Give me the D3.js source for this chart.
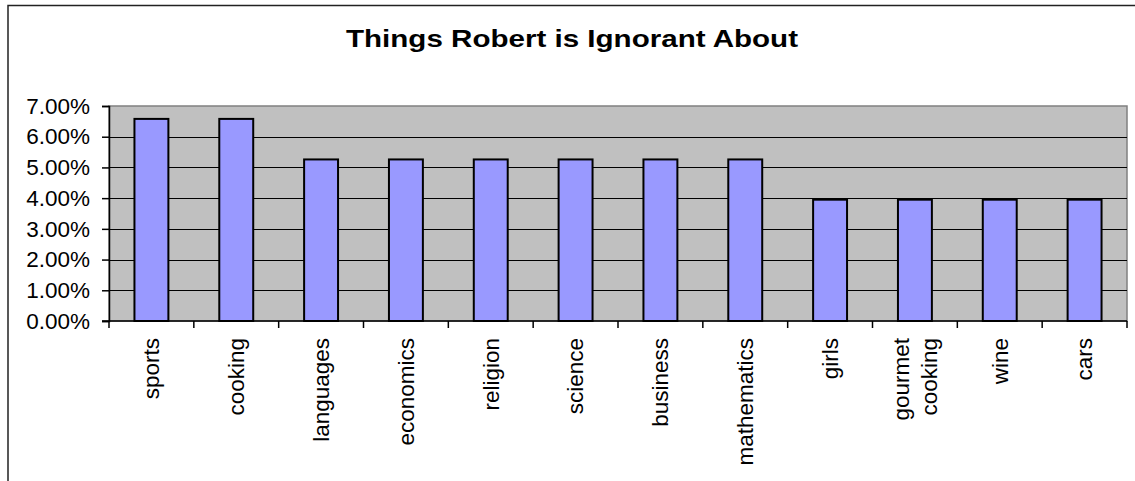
<!DOCTYPE html>
<html>
<head>
<meta charset="utf-8">
<script src="https://cdn.jsdelivr.net/npm/d3@7"></script>
<style>
  html, body { margin: 0; padding: 0; background: #fff; }
  svg { display: block; font-family: "Liberation Sans", Arial, sans-serif; }
</style>
</head>
<body>
<svg id="chart" width="1135" height="481"></svg>
<script>
const title = "Things Robert is Ignorant About";
const categories = ["sports", "cooking", "languages", "economics", "religion", "science",
                    "business", "mathematics", "girls", "gourmet cooking", "wine", "cars"];
const labelLines = [["sports"], ["cooking"], ["languages"], ["economics"], ["religion"], ["science"],
                    ["business"], ["mathematics"], ["girls"], ["gourmet", "cooking"], ["wine"], ["cars"]];
const values = [0.0658, 0.0658, 0.0526, 0.0526, 0.0526, 0.0526,
                0.0526, 0.0526, 0.0395, 0.0395, 0.0395, 0.0395];
const yTicks = [0, 0.01, 0.02, 0.03, 0.04, 0.05, 0.06, 0.07];

const svg = d3.select("#chart");
const plot = { left: 109, right: 1127, top: 106, bottom: 321 };

// outer chart border (cropped on right and bottom)
svg.append("rect")
  .attr("x", 8).attr("y", 5.5)
  .attr("width", 1200).attr("height", 600)
  .attr("fill", "none").attr("stroke", "#222").attr("stroke-width", 1.5);

// title
svg.append("text")
  .attr("x", 572)
  .attr("y", 47)
  .attr("text-anchor", "middle")
  .attr("font-size", 24)
  .attr("font-weight", "bold")
  .attr("textLength", 452)
  .attr("lengthAdjust", "spacingAndGlyphs")
  .text(title);

const y = d3.scaleLinear().domain([0, 0.07]).range([plot.bottom, plot.top]);
const x = d3.scaleBand().domain(categories).range([plot.left, plot.right])
  .paddingInner(0.6).paddingOuter(0.3);
const xTicksScale = d3.scaleBand().domain(categories).range([plot.left, plot.right]).padding(0);

// plot area background
svg.append("rect")
  .attr("x", plot.left).attr("y", plot.top)
  .attr("width", plot.right - plot.left).attr("height", plot.bottom - plot.top)
  .attr("fill", "#C0C0C0").attr("stroke", "#808080").attr("stroke-width", 1.5);

// gridlines
svg.append("g").selectAll("line")
  .data(yTicks.filter(d => d > 0 && d < 0.07))
  .join("line")
  .attr("x1", plot.left).attr("x2", plot.right)
  .attr("y1", d => Math.round(y(d)) + 0.5).attr("y2", d => Math.round(y(d)) + 0.5)
  .attr("stroke", "#000").attr("stroke-width", 1);

// bars
svg.append("g").selectAll("rect")
  .data(values)
  .join("rect")
  .attr("x", (d, i) => x(categories[i]))
  .attr("y", d => y(d))
  .attr("width", x.bandwidth())
  .attr("height", d => y(0) - y(d))
  .attr("fill", "#9999FF")
  .attr("stroke", "#000")
  .attr("stroke-width", 2);

// y axis
const yAxis = d3.axisLeft(y).tickValues(yTicks).tickFormat(d3.format(".2%"))
  .tickSize(7).tickPadding(12);
const yg = svg.append("g").attr("transform", `translate(${plot.left},0)`).call(yAxis);
yg.select(".domain").attr("stroke", "#000").attr("stroke-width", 1.5);
yg.selectAll(".tick line").attr("stroke", "#000").attr("stroke-width", 1.5);
yg.selectAll(".tick text")
  .attr("font-size", 22.5)
  .attr("font-family", "'Liberation Sans', Arial, sans-serif")
  .attr("fill", "#000");

// x axis line and ticks at category boundaries
const xg = svg.append("g");
xg.append("line")
  .attr("x1", plot.left - 7).attr("x2", plot.right)
  .attr("y1", plot.bottom).attr("y2", plot.bottom)
  .attr("stroke", "#000").attr("stroke-width", 1.5);
const boundaries = categories.map(c => xTicksScale(c)).concat([plot.right]);
xg.selectAll("line.tk")
  .data(boundaries)
  .join("line")
  .attr("class", "tk")
  .attr("x1", d => d).attr("x2", d => d)
  .attr("y1", plot.bottom).attr("y2", plot.bottom + 7)
  .attr("stroke", "#000").attr("stroke-width", 1.5);

// x labels, rotated
const lineGap = 28;
const lbl = svg.append("g").selectAll("text")
  .data(categories)
  .join("text")
  .attr("transform", d => `translate(${xTicksScale(d) + xTicksScale.bandwidth() / 2},338) rotate(-90)`)
  .attr("text-anchor", "end")
  .attr("font-size", 22.5)
  .attr("fill", "#000");
lbl.each(function(d, i) {
  const lines = labelLines[i];
  const t = d3.select(this);
  const offset = -(lines.length - 1) * lineGap / 2;
  lines.forEach((ln, j) => {
    t.append("tspan")
      .attr("x", 0)
      .attr("y", offset + j * lineGap)
      .attr("dy", "0.35em")
      .text(ln);
  });
});
</script>
</body>
</html>
